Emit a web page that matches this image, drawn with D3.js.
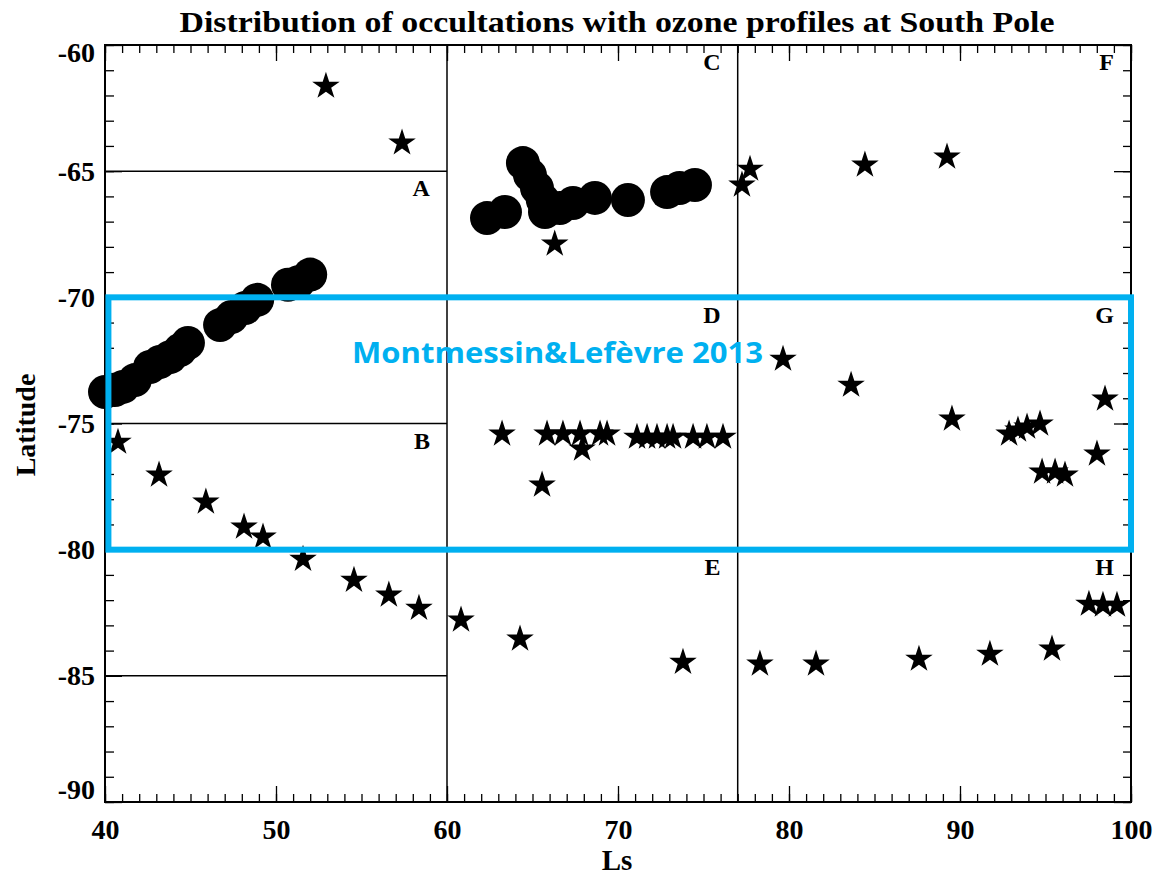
<!DOCTYPE html>
<html>
<head>
<meta charset="utf-8">
<script src="https://cdn.jsdelivr.net/npm/d3@7"></script>
<style>
  body { margin: 0; background: #fff; }
  svg { display: block; }
  .serif, .tick text { font-family: "Times New Roman", Times, "Liberation Serif", Tinos, "Nimbus Roman", serif; font-weight: bold; }
</style>
</head>
<body>
<svg id="chart" width="1158" height="878"></svg>
<script>
// ---------- data ----------
const titleText = "Distribution of occultations with ozone profiles at South Pole";
const xLabel = "Ls";
const yLabel = "Latitude";
const xTicks = [40, 50, 60, 70, 80, 90, 100];
const yTicks = [-90, -85, -80, -75, -70, -65, -60];

// occultations drawn as large filled circles: [Ls, latitude]
const circlePoints = [
  [40.0, -73.75], [40.58, -73.67], [41.05, -73.55], [41.75, -73.28], [42.63, -72.76],
  [43.2, -72.56], [43.8, -72.37], [44.39, -72.09], [44.85, -71.81], [46.73, -71.1],
  [47.4, -70.78], [48.2, -70.42], [48.9, -70.1], [50.7, -69.5], [51.3, -69.4], [52.0, -69.1],
  [62.34, -66.86], [63.39, -66.62], [64.44, -64.68], [64.85, -65.15], [65.26, -65.67],
  [65.6, -66.14], [65.73, -66.62], [66.6, -66.46], [67.37, -66.26], [68.65, -66.06],
  [70.58, -66.14], [72.87, -65.83], [73.6, -65.67], [74.5, -65.55]
];

// occultations drawn as stars: [Ls, latitude]
const starPoints = [
  [52.92, -61.55], [57.37, -63.8],
  [40.76, -75.66], [43.16, -76.96], [45.9, -78.03], [48.13, -79.02], [49.24, -79.42],
  [51.58, -80.3], [54.56, -81.13], [56.6, -81.72], [58.36, -82.24], [60.82, -82.71],
  [64.27, -83.46], [73.8, -84.38],
  [66.3, -67.81], [77.25, -65.47], [77.72, -64.84], [84.44, -64.68], [89.24, -64.36],
  [63.22, -75.34], [65.85, -75.34], [66.78, -75.34], [67.78, -75.34], [67.9, -75.93],
  [68.95, -75.34], [69.36, -75.34], [71.11, -75.46], [71.7, -75.46], [72.28, -75.46],
  [72.87, -75.46], [73.22, -75.46], [74.39, -75.46], [75.2, -75.46], [76.14, -75.46],
  [65.56, -77.36],
  [79.65, -72.37], [83.63, -73.4], [89.53, -74.74], [92.87, -75.34], [93.39, -75.18],
  [93.92, -75.06], [94.68, -74.94], [94.8, -76.84], [95.56, -76.84], [96.14, -76.96],
  [98.01, -76.13], [98.48, -73.95],
  [78.3, -84.45], [81.58, -84.45], [87.6, -84.26], [91.75, -84.06], [95.38, -83.86],
  [97.54, -82.08], [98.36, -82.12], [99.18, -82.12]
];

// region dividers
const vDividers = [60, 77];                     // Ls of full-height vertical lines
const hDividers = [[40, 60, -65], [40, 60, -75], [40, 60, -85]]; // [Ls0, Ls1, lat]

// region labels: [letter, right Ls of region, top lat of region]
const regionLabels = [
  ["A", 60, -65], ["B", 60, -75],
  ["C", 77, -60], ["D", 77, -70], ["E", 77, -80],
  ["F", 100, -60], ["G", 100, -70], ["H", 100, -80]
];

// highlighted band
const bandLs = [40.2, 100];
const bandLat = [-70, -80];
const bandText = "Montmessin&Lefèvre 2013";

// ---------- drawing ----------
const svg = d3.select("#chart");
const x = d3.scaleLinear().domain([40, 100]).range([105, 1131]);
const y = d3.scaleLinear().domain([-90, -60]).range([802, 45]);

// title
svg.append("text").attr("class", "serif")
  .attr("x", 617).attr("y", 32)
  .attr("text-anchor", "middle")
  .attr("font-size", 29)
  .attr("textLength", 875).attr("lengthAdjust", "spacingAndGlyphs")
  .text(titleText);

// minor ticks
const minorX = d3.range(40, 101, 1);
const minorY = d3.range(-90, -59, 1);
function styleAxis(g) {
  g.select(".domain").remove();
  g.selectAll(".tick line").attr("stroke", "#000").attr("stroke-width", 1.3);
}
svg.append("g").attr("transform", `translate(0,${y(-90)})`)
  .call(d3.axisBottom(x).tickValues(minorX).tickSize(-8).tickFormat("")).call(styleAxis);
svg.append("g").attr("transform", `translate(0,${y(-60)})`)
  .call(d3.axisTop(x).tickValues(minorX).tickSize(-8).tickFormat("")).call(styleAxis);
svg.append("g").attr("transform", `translate(${x(40)},0)`)
  .call(d3.axisLeft(y).tickValues(minorY).tickSize(-9).tickFormat("")).call(styleAxis);
svg.append("g").attr("transform", `translate(${x(100)},0)`)
  .call(d3.axisRight(y).tickValues(minorY).tickSize(-8).tickFormat("")).call(styleAxis);

// major ticks + labels
const gx = svg.append("g").attr("transform", `translate(0,${y(-90)})`)
  .call(d3.axisBottom(x).tickValues(xTicks).tickSize(-16).tickPadding(17).tickFormat(d3.format("d")))
  .call(styleAxis);
gx.selectAll(".tick text").attr("font-size", 28).attr("fill", "#000");
svg.append("g").attr("transform", `translate(0,${y(-60)})`)
  .call(d3.axisTop(x).tickValues(xTicks).tickSize(-16).tickFormat("")).call(styleAxis);
const gy = svg.append("g").attr("transform", `translate(${x(40)},0)`)
  .call(d3.axisLeft(y).tickValues(yTicks).tickSize(-17).tickPadding(10).tickFormat(d3.format("d")))
  .call(styleAxis);
gy.selectAll(".tick text").attr("font-size", 28).attr("fill", "#000")
  .attr("transform", d => d === -60 ? "translate(0,8)" : d === -90 ? "translate(0,-12)" : null);
gy.selectAll(".tick text").text(d => "-" + Math.abs(d));
svg.append("g").attr("transform", `translate(${x(100)},0)`)
  .call(d3.axisRight(y).tickValues(yTicks).tickSize(-17).tickFormat("")).call(styleAxis);

// frame
svg.append("rect")
  .attr("x", x(40)).attr("y", y(-60))
  .attr("width", x(100) - x(40)).attr("height", y(-90) - y(-60))
  .attr("fill", "none").attr("stroke", "#000").attr("stroke-width", 2);

// dividers
svg.selectAll(".vdiv").data(vDividers).join("line")
  .attr("x1", d => x(d)).attr("x2", d => x(d))
  .attr("y1", y(-60)).attr("y2", y(-90))
  .attr("stroke", "#000").attr("stroke-width", 1.5);
svg.selectAll(".hdiv").data(hDividers).join("line")
  .attr("x1", d => x(d[0])).attr("x2", d => x(d[1]))
  .attr("y1", d => y(d[2])).attr("y2", d => y(d[2]))
  .attr("stroke", "#000").attr("stroke-width", 1.5);

// region letters
svg.selectAll(".reg").data(regionLabels).join("text").attr("class", "serif")
  .attr("x", d => x(d[1] - 1)).attr("y", d => y(d[2] - 1))
  .attr("text-anchor", "end")
  .attr("font-size", 24)
  .text(d => d[0]);

// circles
svg.selectAll(".circ").data(circlePoints).join("circle")
  .attr("cx", d => x(d[0])).attr("cy", d => y(d[1]))
  .attr("r", 17).attr("fill", "#000");

// stars
const star = d3.symbol().type(d3.symbolStar).size(235);
svg.selectAll(".star").data(starPoints).join("path")
  .attr("transform", d => `translate(${x(d[0])},${y(d[1]) + 2})`)
  .attr("d", star).attr("fill", "#000");

// highlight band
svg.append("rect")
  .attr("x", x(bandLs[0])).attr("y", y(bandLat[0]))
  .attr("width", x(bandLs[1]) - x(bandLs[0])).attr("height", y(bandLat[1]) - y(bandLat[0]))
  .attr("fill", "none").attr("stroke", "#00b0f0").attr("stroke-width", 6);
svg.append("text")
  .attr("x", 352).attr("y", 363)
  .attr("font-family", '"Open Sans", "Noto Sans", sans-serif').attr("font-weight", "bold")
  .attr("font-size", 29).attr("fill", "#00b0f0")
  .attr("textLength", 411).attr("lengthAdjust", "spacingAndGlyphs")
  .text(bandText);

// axis titles
svg.append("text").attr("class", "serif")
  .attr("x", 617).attr("y", 870).attr("text-anchor", "middle")
  .attr("font-size", 29)
  .text(xLabel);
svg.append("text").attr("class", "serif")
  .attr("transform", "translate(35,425) rotate(-90)").attr("text-anchor", "middle")
  .attr("font-size", 28)
  .text(yLabel);
</script>
</body>
</html>
